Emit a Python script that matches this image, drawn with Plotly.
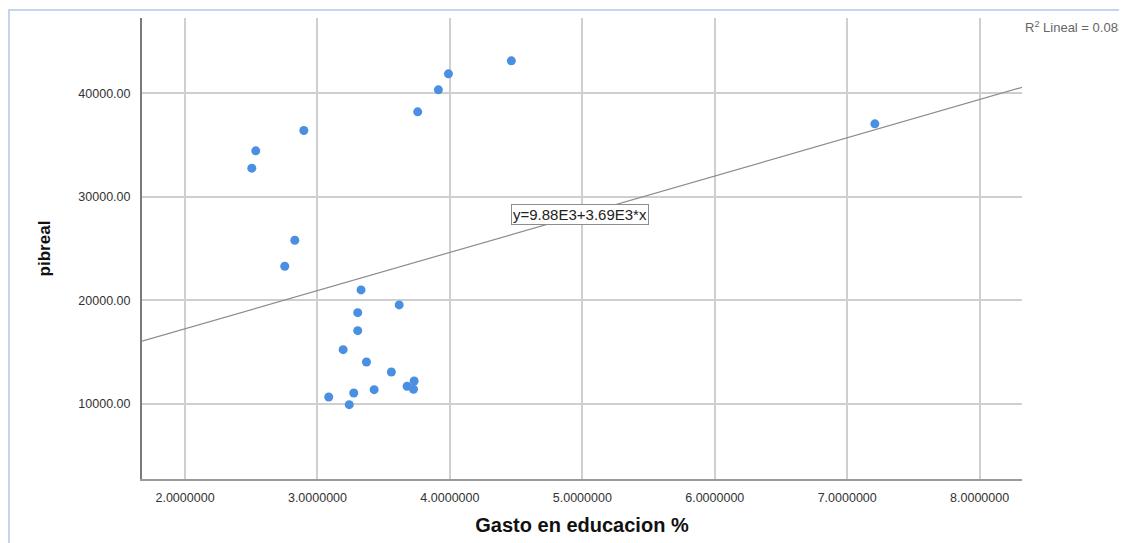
import plotly.graph_objects as go

# Data
gasto_educacion = [4.464, 3.989, 3.913, 3.757, 2.897, 2.534, 2.504, 2.829, 2.753,
                   3.329, 3.617, 3.304, 3.304, 3.194, 3.370, 3.558, 3.730, 3.677,
                   3.725, 3.428, 3.274, 3.085, 3.240, 7.209]
pibreal = [43140, 41884, 40338, 38213, 36406, 34444, 32773, 25812, 23300,
           21015, 19565, 18821, 17082, 15246, 14058, 13092, 12222, 11710,
           11420, 11382, 11063, 10676, 9932, 37053]

# Fit line (as printed on the chart)
intercept = 9880.0
slope = 3690.0
r2_text = "R<sup>2</sup> Lineal = 0.083"
eq_text = "y=9.88E3+3.69E3*x"

x_range = [1.675, 8.32]
y_range = [2754, 47275]
x_ticks = [2, 3, 4, 5, 6, 7, 8]
y_ticks = [10000, 20000, 30000, 40000]

font_family = "Liberation Sans, Arial, sans-serif"

# page offset of the plotly div (body margin)
OFF = 8
L, T, PW, PH = 142 - OFF, 18 - OFF, 880, 461

fig = go.Figure()

fig.add_trace(go.Scatter(
    x=x_range,
    y=[intercept + slope * v for v in x_range],
    mode="lines",
    line=dict(color="#8c8c8c", width=1.2),
    hoverinfo="skip",
    showlegend=False,
))

fig.add_trace(go.Scatter(
    x=gasto_educacion,
    y=pibreal,
    mode="markers",
    marker=dict(color="#4A8FE2", size=9, line=dict(width=0)),
    showlegend=False,
))

eq_x = 4.985
fig.add_annotation(
    x=eq_x, y=intercept + slope * eq_x,
    text=eq_text, showarrow=False,
    font=dict(family=font_family, size=15, color="#222"),
    bgcolor="white", bordercolor="#8c8c8c", borderwidth=1, borderpad=1,
)

fig.add_annotation(
    xref="paper", yref="paper", x=(1023 - 142) / PW, y=1 - (27 - 18) / PH,
    xanchor="left", yanchor="middle",
    text=r2_text, showarrow=False,
    font=dict(family=font_family, size=13, color="#666"),
)

# outer light-blue frame
fig.add_shape(
    type="rect", xref="paper", yref="paper",
    x0=(9 - 142) / PW, x1=1.3, y0=-0.3, y1=1 + (18 - 10) / PH,
    line=dict(color="#b4c8e8", width=1.5), fillcolor="rgba(0,0,0,0)",
    layer="below",
)

fig.update_layout(
    width=1127, height=543,
    margin=dict(l=L, r=1127 - L - PW, t=T, b=543 - T - PH),
    paper_bgcolor="white", plot_bgcolor="white",
    font=dict(family=font_family, size=12, color="#333"),
    xaxis=dict(
        range=x_range, tickvals=x_ticks, tickformat=".7f",
        showgrid=True, gridcolor="#cfcfcf", gridwidth=1.5,
        showline=True, linecolor="#9a9a9a", linewidth=2,
        zeroline=False, ticks="", ticklabelstandoff=6,
        tickfont=dict(size=12.5),
        title=dict(text="<b>Gasto en educacion %</b>", standoff=14,
                   font=dict(size=20, color="#111")),
    ),
    yaxis=dict(
        range=y_range, tickvals=y_ticks, tickformat=".2f",
        showgrid=True, gridcolor="#cfcfcf", gridwidth=1.5,
        showline=True, linecolor="#7a7a7a", linewidth=2,
        zeroline=False, ticks="", ticklabelstandoff=7,
        tickfont=dict(size=12.5),
        title=dict(text="<b>pibreal</b>", standoff=23,
                   font=dict(size=17, color="#111")),
    ),
)

fig.write_html("out.html")
